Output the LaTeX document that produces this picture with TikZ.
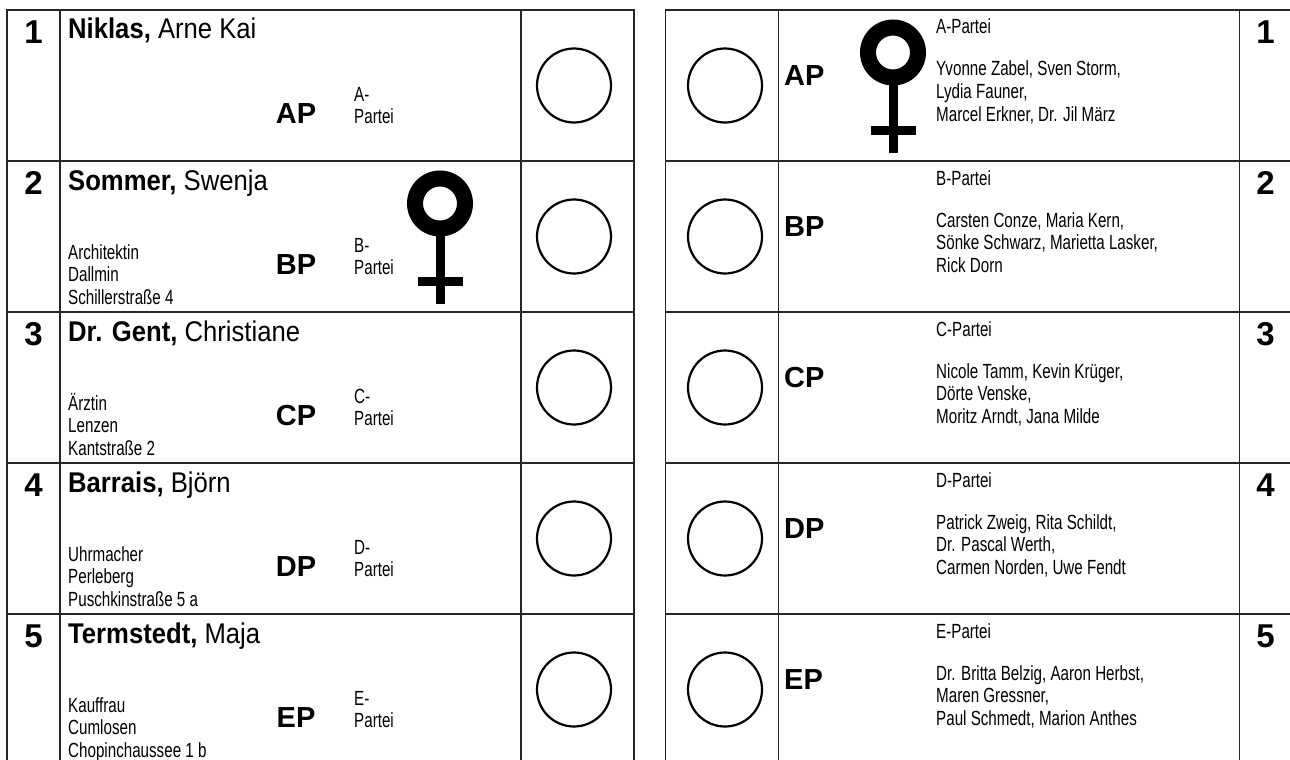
\documentclass[tikz,border=0pt]{standalone}
\usepackage{fontspec}
\setmainfont{Liberation Sans}
\newfontfamily\namefont{Liberation Sans}[FakeStretch=0.9]
\newfontfamily\listfont{Liberation Sans}[FakeStretch=0.74]
\usetikzlibrary{calc}

\newcommand{\candname}[2]{\textbf{#1} #2}

\begin{document}
\begin{tikzpicture}[x=1pt, y=-1pt,
		table line/.style={line width=1.3pt, draw=black!85},
		vote circle/.style={circle, draw, line width=2.2pt, minimum size=74pt, inner sep=0pt},
		row number/.style={font=\fontsize{33}{36}\selectfont\bfseries, anchor=base, inner sep=0pt},
		candidate/.style={font=\fontsize{28.5}{32}\namefont, anchor=base west, inner sep=0pt},
		abbrev/.style={font=\fontsize{29}{32}\selectfont\bfseries, anchor=base, inner sep=0pt},
		small text/.style={font=\fontsize{20.5}{22.5}\listfont, anchor=base west, inner sep=0pt, align=left}]
		
		\useasboundingbox (0,0) rectangle (1290,760);
		
		\def\rowh{151};
		
		%left table
		\draw [table line] (7,10) rectangle (634,765);
		\draw [table line] (60,10) -- (60,765);
		\draw [table line] (521,10) -- (521,765);
		\foreach \r in {1,...,4} \draw [table line] (7,{10 + \r*\rowh}) -- (634,{10 + \r*\rowh});
		
		%right table
		\draw [table line] (665.5,10) rectangle (1292.5,765);
		\draw [table line] (778.5,10) -- (778.5,765);
		\draw [table line] (1239.5,10) -- (1239.5,765);
		\foreach \r in {1,...,4} \draw [table line] (665.5,{10 + \r*\rowh}) -- (1292.5,{10 + \r*\rowh});
		
		%candidates (multi-line nodes sit on their last line)
		\begin{scope}[shift={(0,10)}]
			\node (left number 1) [row number] at (33.5,33.5) {1};
			\node (left name 1) [candidate] at (68,29) {\candname{Niklas,}{Arne Kai}};
			\node (left abbrev 1) [abbrev] at (296,113) {AP};
			\node (left party 1) [small text] at (354,113.5) {A-\\Partei};
			\node (left vote 1) [vote circle] at (574,75.5) {};
		\end{scope}
		
		\begin{scope}[shift={(0,161)}]
			\node (left number 2) [row number] at (33.5,33.5) {2};
			\node (left name 2) [candidate] at (68,29) {\candname{Sommer,}{Swenja}};
			\node (left info 2) [small text] at (68,143) {Architektin\\Dallmin\\Schillerstraße 4};
			\node (left abbrev 2) [abbrev] at (296,113) {BP};
			\node (left party 2) [small text] at (354,113.5) {B-\\Partei};
			\node (left vote 2) [vote circle] at (574,75.5) {};
			\coordinate (venus left) at (440,42.5);
		\end{scope}
		
		\begin{scope}[shift={(0,312)}]
			\node (left number 3) [row number] at (33.5,33.5) {3};
			\node (left name 3) [candidate] at (68,29) {\candname{Dr. Gent,}{Christiane}};
			\node (left info 3) [small text] at (68,143) {Ärztin\\Lenzen\\Kantstraße 2};
			\node (left abbrev 3) [abbrev] at (296,113) {CP};
			\node (left party 3) [small text] at (354,113.5) {C-\\Partei};
			\node (left vote 3) [vote circle] at (574,75.5) {};
		\end{scope}
		
		\begin{scope}[shift={(0,463)}]
			\node (left number 4) [row number] at (33.5,33.5) {4};
			\node (left name 4) [candidate] at (68,29) {\candname{Barrais,}{Björn}};
			\node (left info 4) [small text] at (68,143) {Uhrmacher\\Perleberg\\Puschkinstraße 5 a};
			\node (left abbrev 4) [abbrev] at (296,113) {DP};
			\node (left party 4) [small text] at (354,113.5) {D-\\Partei};
			\node (left vote 4) [vote circle] at (574,75.5) {};
		\end{scope}
		
		\begin{scope}[shift={(0,614)}]
			\node (left number 5) [row number] at (33.5,33.5) {5};
			\node (left name 5) [candidate] at (68,29) {\candname{Termstedt,}{Maja}};
			\node (left info 5) [small text] at (68,143) {Kauffrau\\Cumlosen\\Chopinchaussee 1 b};
			\node (left abbrev 5) [abbrev] at (296,113) {EP};
			\node (left party 5) [small text] at (354,113.5) {E-\\Partei};
			\node (left vote 5) [vote circle] at (574,75.5) {};
		\end{scope}
		
		%party lists
		\begin{scope}[shift={(0,10)}]
			\node (right vote 1) [vote circle] at (725,75.5) {};
			\node (right abbrev 1) [abbrev, anchor=base west] at (784,75) {AP};
			\node (right party 1) [small text] at (936,24) {A-Partei};
			\node (right list 1) [small text] at (936,111) {Yvonne Zabel, Sven Storm,\\Lydia Fauner,\\Marcel Erkner, Dr. Jil März};
			\node (right number 1) [row number] at (1265.5,33.5) {1};
			\coordinate (venus right) at (893,42.5);
		\end{scope}
		
		\begin{scope}[shift={(0,161)}]
			\node (right vote 2) [vote circle] at (725,75.5) {};
			\node (right abbrev 2) [abbrev, anchor=base west] at (784,75) {BP};
			\node (right party 2) [small text] at (936,24) {B-Partei};
			\node (right list 2) [small text] at (936,111) {Carsten Conze, Maria Kern,\\Sönke Schwarz, Marietta Lasker,\\Rick Dorn};
			\node (right number 2) [row number] at (1265.5,33.5) {2};
		\end{scope}
		
		\begin{scope}[shift={(0,312)}]
			\node (right vote 3) [vote circle] at (725,75.5) {};
			\node (right abbrev 3) [abbrev, anchor=base west] at (784,75) {CP};
			\node (right party 3) [small text] at (936,24) {C-Partei};
			\node (right list 3) [small text] at (936,111) {Nicole Tamm, Kevin Krüger,\\Dörte Venske,\\Moritz Arndt, Jana Milde};
			\node (right number 3) [row number] at (1265.5,33.5) {3};
		\end{scope}
		
		\begin{scope}[shift={(0,463)}]
			\node (right vote 4) [vote circle] at (725,75.5) {};
			\node (right abbrev 4) [abbrev, anchor=base west] at (784,75) {DP};
			\node (right party 4) [small text] at (936,24) {D-Partei};
			\node (right list 4) [small text] at (936,111) {Patrick Zweig, Rita Schildt,\\Dr. Pascal Werth,\\Carmen Norden, Uwe Fendt};
			\node (right number 4) [row number] at (1265.5,33.5) {4};
		\end{scope}
		
		\begin{scope}[shift={(0,614)}]
			\node (right vote 5) [vote circle] at (725,75.5) {};
			\node (right abbrev 5) [abbrev, anchor=base west] at (784,75) {EP};
			\node (right party 5) [small text] at (936,24) {E-Partei};
			\node (right list 5) [small text] at (936,111) {Dr. Britta Belzig, Aaron Herbst,\\Maren Gressner,\\Paul Schmedt, Marion Anthes};
			\node (right number 5) [row number] at (1265.5,33.5) {5};
		\end{scope}
		
		%female signs
		\foreach \c in {venus left, venus right} {
			\fill [even odd rule] (\c) circle [radius = 33] (\c) circle [radius = 17];
			\fill ($ (\c) + (-4.5,30) $) rectangle ($ (\c) + (4.5,100) $);
			\fill ($ (\c) + (-22.5,73.5) $) rectangle ($ (\c) + (22.5,82.5) $);
		}
	\end{tikzpicture}
\end{document}
